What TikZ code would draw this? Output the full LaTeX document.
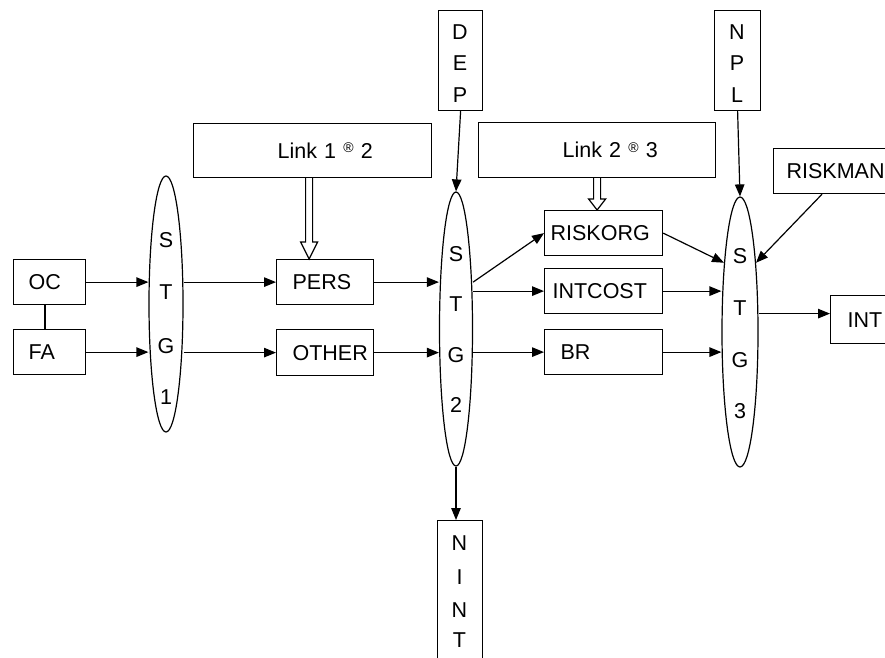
\documentclass[tikz,border=0pt]{standalone}
\usepackage{fontspec}
\setmainfont{Liberation Sans}
\usetikzlibrary{arrows.meta,shapes.geometric,calc}
\newcommand\fs{\fontsize{21.5}{26}\selectfont}
\newcommand\regmark{\raisebox{5.5pt}{\fontsize{14}{14}\selectfont ®}}
\newcommand\hollowarr[3]{%
  \draw[fill=white] let \p1=(#1), \p2=(#2) in
    (\x1-3.5pt,\y1) -- (\x1-3.5pt,\y2+#3) -- (\x1-8.5pt,\y2+#3) -- (\x1,\y2)
    -- (\x1+8.5pt,\y2+#3) -- (\x1+3.5pt,\y2+#3) -- (\x1+3.5pt,\y1);}
\begin{document}
\begin{tikzpicture}[x=1pt,y=-1pt,line width=1.2pt,
  box/.style={draw,rectangle,anchor=north west,inner xsep=0pt,inner ysep=0pt,align=left,font=\fs},
  vbox/.style={draw,rectangle,anchor=north west,inner sep=0pt},
  stg/.style={draw,ellipse,inner sep=0pt},
  ltr/.style={inner sep=0pt,font=\fs},
  arr/.style={-{Triangle[length=12pt,width=9.5pt]}}]
\useasboundingbox (0,0) rectangle (885,657);

% boxes
\node[box,text width=72pt,minimum height=45pt] (oc) at (13,259) {\hspace*{15pt}OC};
\node[box,text width=72pt,minimum height=45pt] (fa) at (13,329) {\hspace*{15pt}FA};
\node[box,text width=97pt,minimum height=45pt] (pers) at (276,259) {\hspace*{16pt}PERS};
\node[box,text width=97pt,minimum height=46pt] (other) at (276,329) {\hspace*{16pt}OTHER};
\node[box,text width=238pt,minimum height=54pt] (l1) at (193,123) {\hspace*{84pt}Link 1 \regmark{} 2};
\node[box,text width=237pt,minimum height=55pt] (l2) at (478,122) {\hspace*{84pt}Link 2 \regmark{} 3};
\node[box,text width=118pt,minimum height=45pt] (riskorg) at (544,210) {\hspace*{6pt}RISKORG};
\node[box,text width=118pt,minimum height=45pt] (intcost) at (544,268) {\hspace*{8pt}INTCOST};
\node[box,text width=118pt,minimum height=45pt] (br) at (544,329) {\hspace*{16pt}BR};
\node[box,text width=124pt,minimum height=45pt] (riskman) at (773,148) {\hspace*{13pt}RISKMAN};
\node[box,text width=70pt,minimum height=48pt] (int) at (830,295) {\hspace*{17pt}INT};

% vertical boxes
\node[vbox,minimum width=44pt,minimum height=100pt] (dep) at (438,10) {};
\node[vbox,minimum width=46pt,minimum height=100pt] (npl) at (714,10) {};
\node[vbox,minimum width=45pt,minimum height=160pt] (nint) at (437,520) {};
\foreach \t/\yy [count=\i] in {D/32,E/63,P/95}
  \node[ltr] (dep\i) at (460,\yy) {\t};
\foreach \t/\yy [count=\i] in {N/32,P/63,L/95}
  \node[ltr] (npl\i) at (737,\yy) {\t};
\foreach \t/\yy [count=\i] in {N/543,I/577,N/610,T/640}
  \node[ltr] (nint\i) at (459.5,\yy) {\t};

% ellipses
\node[stg,minimum width=34pt,minimum height=256pt] (e1) at (166,304) {};
\node[stg,minimum width=33pt,minimum height=274pt] (e2) at (456,329) {};
\node[stg,minimum width=36pt,minimum height=270pt] (e3) at (740,332) {};
\foreach \t/\yy [count=\i] in {S/240,T/292,G/346,1/397}
  \node[ltr] (ea\i) at (166,\yy) {\t};
\foreach \t/\yy [count=\i] in {S/254,T/304,G/355,2/405}
  \node[ltr] (eb\i) at (456,\yy) {\t};
\foreach \t/\yy [count=\i] in {S/256,T/308,G/360,3/411}
  \node[ltr] (ec\i) at (740,\yy) {\t};

% connectors
\draw ([xshift=32pt]oc.south west) -- ([xshift=32pt]fa.north west);
\draw[arr] (oc.east) -- (oc.east -| e1.west);
\draw[arr] (fa.east) -- (fa.east -| e1.west);
\draw[arr] (pers.west -| e1.east) -- (pers.west);
\draw[arr] (other.west -| e1.east) -- (other.west);
\draw[arr] (pers.east) -- (pers.east -| e2.west);
\draw[arr] (other.east) -- (other.east -| e2.west);
\draw[arr] (pers.east -| e2.east) -- (riskorg.west);
\draw[arr] (intcost.west -| e2.east) -- (intcost.west);
\draw[arr] (br.west -| e2.east) -- (br.west);
\draw[arr] (riskorg.east) -- (e3.103);
\draw[arr] (intcost.east) -- (intcost.east -| e3.west);
\draw[arr] (br.east) -- (br.east -| e3.west);
\draw[arr] (dep.south) -- (e2.north);
\draw[arr] (npl.south) -- (e3.north);
\draw[arr] (e2.south) -- (e2.south |- nint.north);
\draw[arr] ([xshift=49pt]riskman.south west) -- (e3.77);
\coordinate (intin) at ([yshift=6pt]int.west);
\draw[arr] (intin -| e3.east) -- (intin);

% hollow arrows
\hollowarr{[xshift=-3.5pt]l1.south}{[xshift=-3.5pt]l1.south |- pers.north}{17pt}
\hollowarr{l2.south}{l2.south |- riskorg.north}{11pt}
\end{tikzpicture}
\end{document}
